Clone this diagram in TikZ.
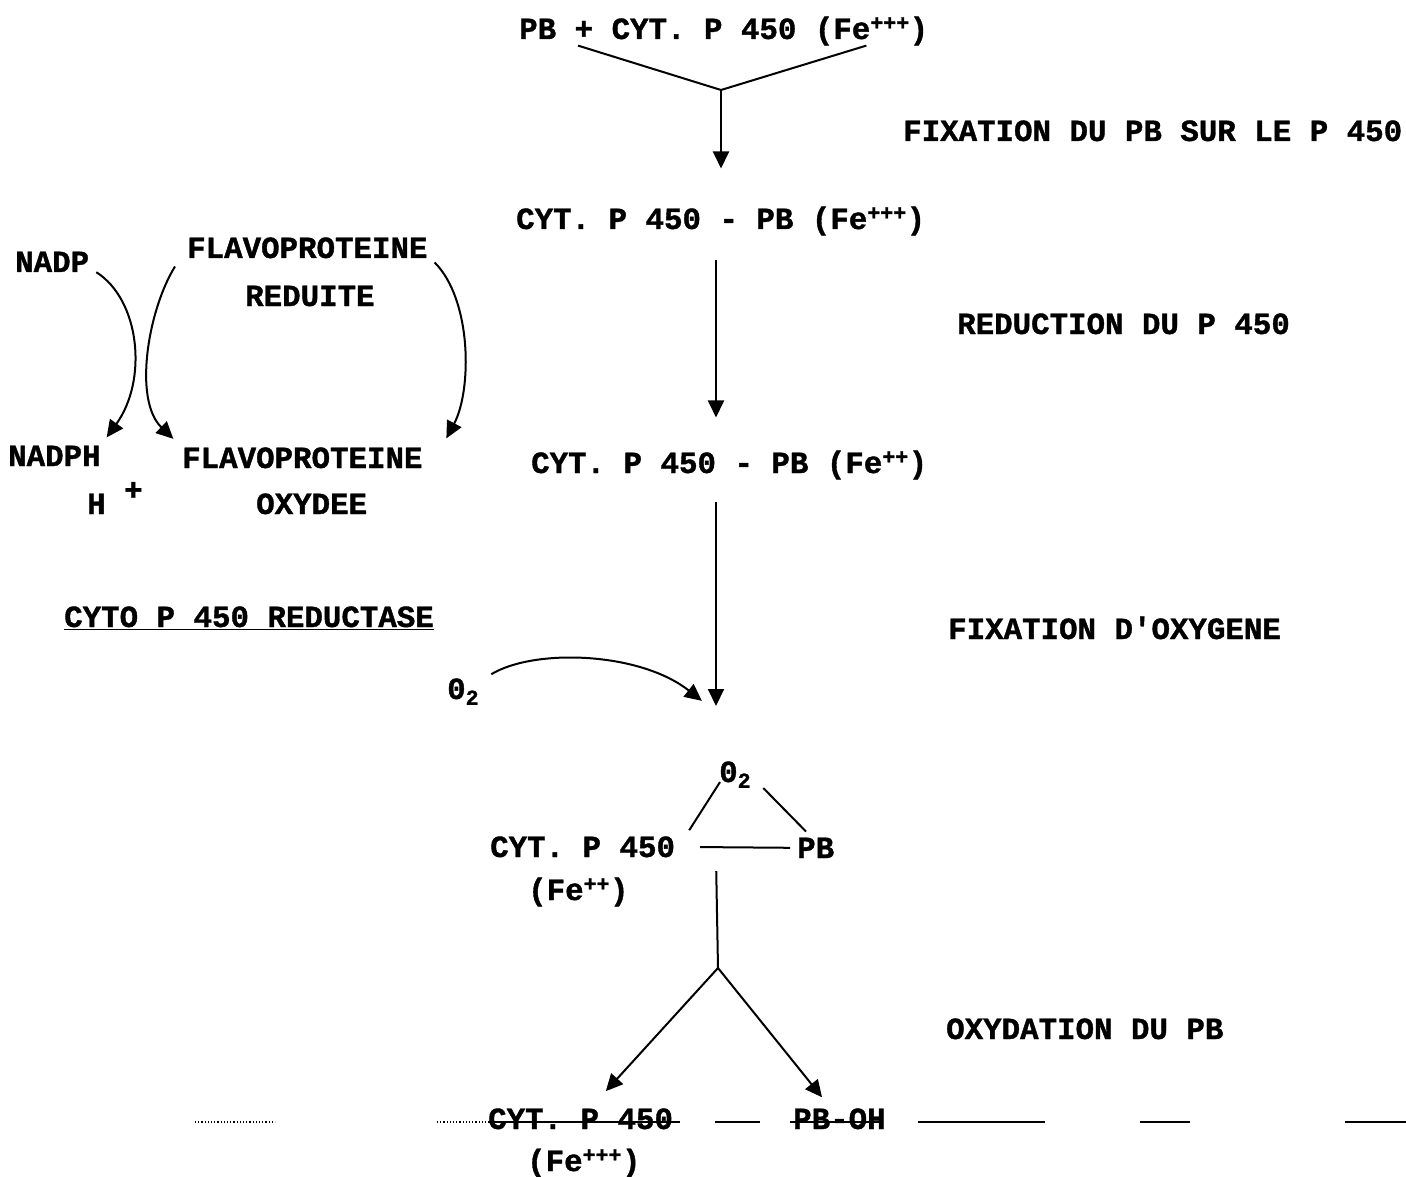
\documentclass[tikz,border=0pt]{standalone}
\usepackage{fontspec}
\setmainfont{Liberation Mono}[BoldFeatures={FakeBold=1.2}]
\usetikzlibrary{arrows.meta}

\begin{document}
\begin{tikzpicture}[
    x=1pt, y=-1pt,
    every node/.style={font=\fontsize{30.8}{36}\selectfont\bfseries, inner sep=0pt, anchor=base west},
    line/.style={line width=2pt},
    arr/.style={line width=2pt, -{Triangle[length=17pt,width=16pt]}},
    rule/.style={line width=1.2pt}
  ]
  \useasboundingbox (0,0) rectangle (1406,1177);

  \node (start) at (519,39) {PB + CYT. P 450 (Fe\textsuperscript{+++})};
  \node (s2) at (516,229) {CYT. P 450 - PB (Fe\textsuperscript{+++})};
  \node (s3) at (531,473) {CYT. P 450 - PB (Fe\textsuperscript{++})};
  \node (o2in) at (447,699) {0\textsubscript{2}};
  \node (o2) at (719,782) {0\textsubscript{2}};
  \node (cyt4) at (490,857) {CYT. P 450};
  \node (pb4) at (797,858) {PB};
  \node (fe4) at (528,900) {(Fe\textsuperscript{++})};
  \node (cyt5) at (488,1129) {CYT. P 450};
  \node (pboh) at (793,1129) {PB-OH};
  \node (fe5) at (527,1171) {(Fe\textsuperscript{+++})};

  \node (fix) at (903,141) {FIXATION DU PB SUR LE P 450};
  \node (red) at (957,334) {REDUCTION DU P 450};
  \node (oxy) at (948,639) {FIXATION D\textquotesingle OXYGENE};
  \node (oxd) at (946,1039) {OXYDATION DU PB};

  \node (nadp) at (15,272) {NADP};
  \node (flavred) at (187,258) {FLAVOPROTEINE};
  \node (reduite) at (245,306) {REDUITE};
  \node (nadph) at (8,466) {NADPH};
  \node (hplus) at (87,514) {H \raisebox{0.45em}{+}};
  \node (flavox) at (182,468) {FLAVOPROTEINE};
  \node (oxydee) at (256,514) {OXYDEE};
  \node (reductase) at (64,627) {\underline{CYTO P 450 REDUCTASE}};

  \coordinate (ax) at (716,0);
  \coordinate (join) at (721,90);
  \coordinate (meet) at (716,712);
  \coordinate (split) at (718,968);

  \draw[line] ([xshift=59pt]start.south west) -- (join) -- ([xshift=-62pt]start.south east);
  \draw[arr, shorten >=38pt] (join) -- (join |- s2.north);
  \draw[arr, shorten <=24pt, shorten >=33pt] (s2.south -| ax) -- (s3.north -| ax);
  \draw[arr, shorten <=22pt, shorten >=6pt] (s3.south -| ax) -- (meet);
  \draw[arr, shorten >=18pt] ([xshift=12pt,yshift=4pt]o2in.north east) .. controls (535,648) and (640,652) .. (meet);

  \draw[line] ([xshift=1pt,yshift=6pt]o2.south west) -- ([xshift=14pt,yshift=6pt]cyt4.north east);
  \draw[line] ([xshift=12pt]o2.south east) -- ([xshift=9pt,yshift=6pt]pb4.north west);
  \draw[line, shorten <=25pt, shorten >=7pt] (cyt4.east) -- (pb4.west);
  \draw[line, shorten <=13pt] (pb4.south -| ax) -- (split);
  \draw[arr, shorten >=23pt] (split) -- (cyt5);
  \draw[arr, shorten >=14pt] (split) -- (pboh);

  \draw[arr, shorten >=10pt] ([xshift=7pt]nadp.south east) .. controls (140,300) and (148,380) .. (nadph.north east);
  \draw[arr, shorten >=12pt] ([xshift=-12pt,yshift=-8pt]flavred.south west) .. controls (148,310) and (133,400) .. (flavox.north west);
  \draw[arr, shorten >=10pt] ([xshift=7pt,yshift=-4pt]flavred.south east) .. controls (472,300) and (472,390) .. ([xshift=19pt]flavox.north east);

  \draw[rule, dotted] (195,1122) -- (275,1122);
  \draw[rule, dotted] (437,1122) -- (488,1122);
  \draw[rule] (488,1122) -- (680,1122);
  \draw[rule] (715,1122) -- (760,1122);
  \draw[rule] (790,1122) -- (882,1122);
  \draw[rule] (918,1122) -- (1045,1122);
  \draw[rule] (1140,1122) -- (1190,1122);
  \draw[rule] (1345,1122) -- (1406,1122);
\end{tikzpicture}
\end{document}
